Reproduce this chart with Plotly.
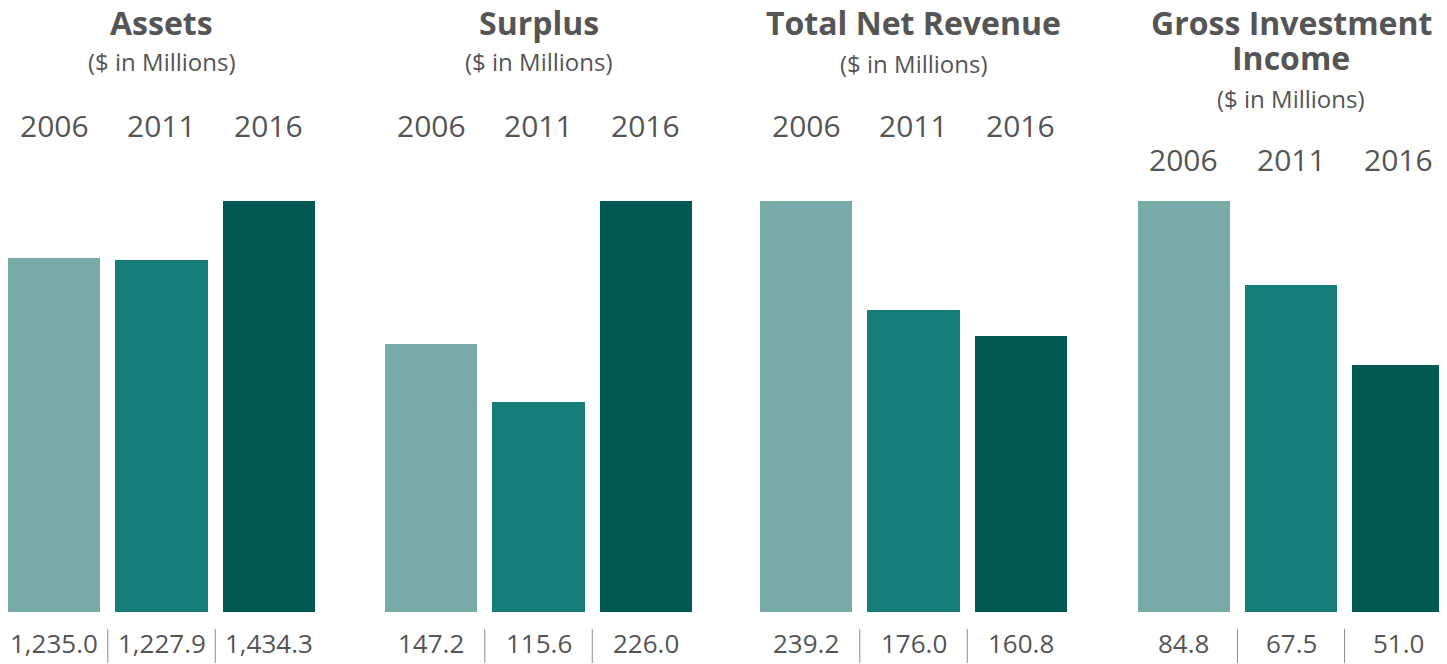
import plotly.graph_objects as go

# The page adds an 8px body margin; lay the figure out in reference pixels
# and shift by that offset.
OFF = 8
W, H = 1447 - OFF, 664 - OFF

titles = ["Assets", "Surplus", "Total Net Revenue", "Gross Investment<br>Income"]
subtitle = "($ in Millions)"
years = ["2006", "2011", "2016"]
assets = [1235.0, 1227.9, 1434.3]
surplus = [147.2, 115.6, 226.0]
revenue = [239.2, 176.0, 160.8]
income = [84.8, 67.5, 51.0]
series = [assets, surplus, revenue, income]

bar_colors = ["#78aba8", "#177d78", "#005a53"]
text_color = "#555555"
sep_color = "#8a8a8a"
FONT = "Open Sans"

# panel pixel extents (left edge of first bar, right edge of last bar), reference pixels
panel_px = [(8, 315), (385, 692), (760, 1067), (1138, 1444)]
bar_bottom_px, bar_top_px = 612, 201
half = 0.428  # half bar width in category units


def px_x(p):
    return (p - OFF) / W


def py(p):
    return 1 - (p - OFF) / H


fig = go.Figure()
annotations = []
shapes = []

for i, (vals, title) in enumerate(zip(series, titles)):
    n = i + 1
    xa = "x" if n == 1 else f"x{n}"
    ya = "y" if n == 1 else f"y{n}"
    fig.add_trace(go.Bar(
        x=list(range(len(years))), y=vals, xaxis=xa, yaxis=ya,
        width=2 * half, marker=dict(color=bar_colors, line=dict(width=0)),
        hoverinfo="skip", showlegend=False,
    ))
    l, r = panel_px[i]
    fig.layout[f"xaxis{'' if n == 1 else n}"] = dict(
        domain=[max(0, px_x(l)), min(1, px_x(r))], range=[-half, len(years) - 1 + half],
        visible=False, fixedrange=True, anchor=ya)
    fig.layout[f"yaxis{'' if n == 1 else n}"] = dict(
        domain=[py(bar_bottom_px), py(bar_top_px)], range=[0, max(vals)],
        visible=False, fixedrange=True, anchor=xa)

    xc = px_x((l + r) / 2)
    lines = title.split("<br>")
    if len(lines) == 1:
        title_y = [23]
        sub_y = 62 if i != 2 else 64
        year_y = 125
    else:
        title_y = [23, 58]
        sub_y = 98
        year_y = 159
    for line, ty in zip(lines, title_y):
        annotations.append(dict(text=f"<b>{line}</b>", x=xc, y=py(ty), xref="paper", yref="paper",
                                xanchor="center", yanchor="middle", showarrow=False, borderpad=0,
                                font=dict(family=FONT, size=32, color=text_color)))
    annotations.append(dict(text=subtitle, x=xc, y=py(sub_y), xref="paper", yref="paper",
                            xanchor="center", yanchor="middle", showarrow=False,
                            font=dict(family=FONT, size=24, color=text_color)))
    for j, (yr, v) in enumerate(zip(years, vals)):
        annotations.append(dict(text=yr, x=j, y=py(year_y), xref=xa, yref="paper",
                                xanchor="center", yanchor="middle", showarrow=False,
                                font=dict(family=FONT, size=30, color=text_color)))
        annotations.append(dict(text=f"{v:,.1f}", x=j, y=py(643), xref=xa, yref="paper",
                                xanchor="center", yanchor="middle", showarrow=False,
                                font=dict(family=FONT, size=26, color=text_color)))
    for j in range(len(years) - 1):
        shapes.append(dict(type="line", xref=xa, yref="paper", x0=j + 0.5, x1=j + 0.5,
                           y0=py(663), y1=py(629), line=dict(color=sep_color, width=1)))

fig.update_layout(
    width=W, height=H, margin=dict(l=0, r=0, t=0, b=0),
    paper_bgcolor="white", plot_bgcolor="white",
    annotations=annotations, shapes=shapes, bargap=0,
    font=dict(family=FONT, color=text_color),
)

fig.write_html("out.html", config={"displayModeBar": False})
